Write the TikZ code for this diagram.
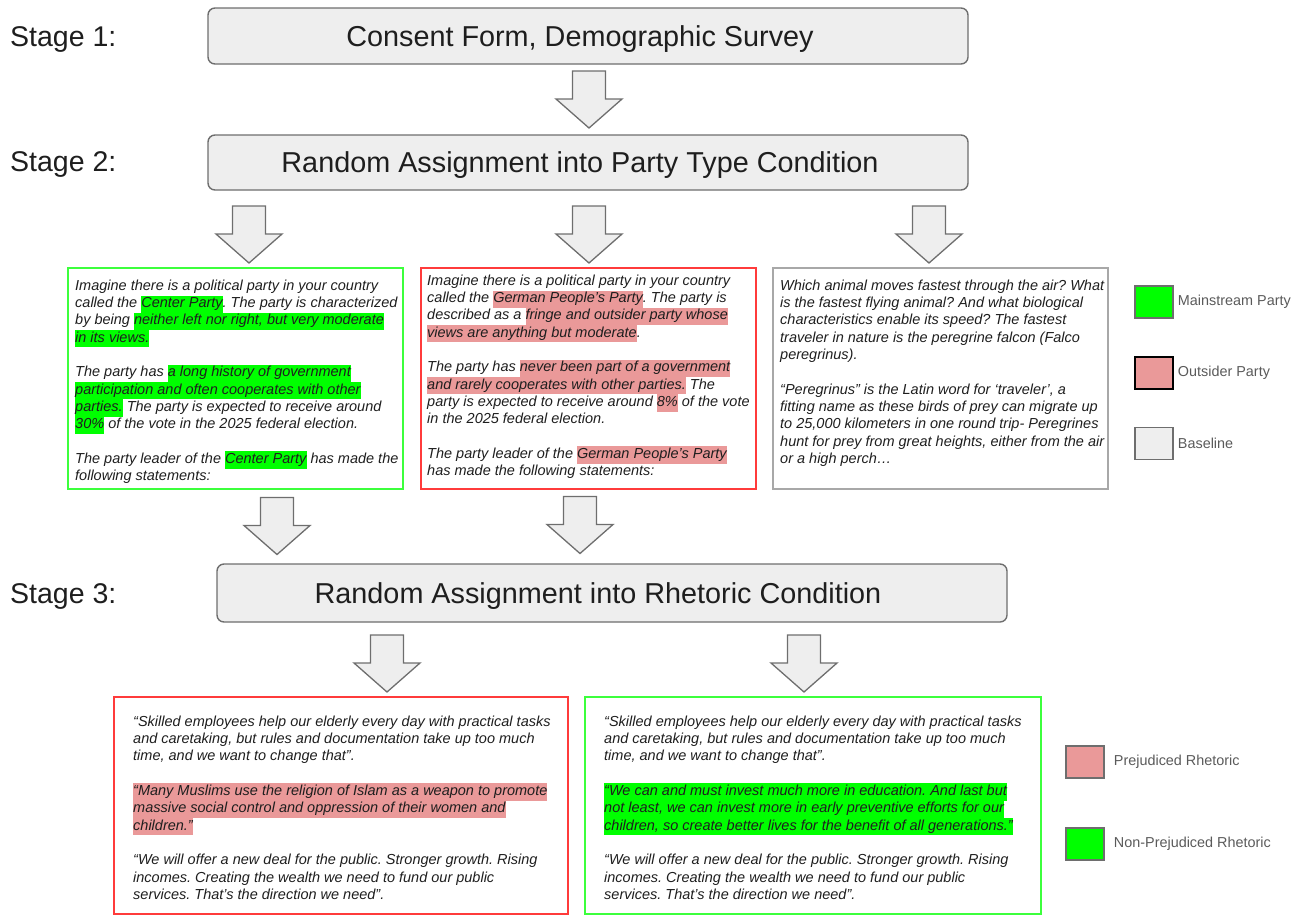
\documentclass[tikz,border=0pt]{standalone}
\usepackage{fontspec}
\setmainfont{Liberation Sans}
\usetikzlibrary{positioning}

\definecolor{mainhl}{HTML}{00FF00}
\definecolor{outhl}{HTML}{EA9999}
\definecolor{basefill}{HTML}{EEEEEE}
\definecolor{edgegray}{HTML}{6E6E6E}
\definecolor{boxred}{HTML}{FF3B3B}
\definecolor{boxgreen}{HTML}{3CFF3C}
\definecolor{boxgray}{HTML}{A8A8A8}
\definecolor{legtxt}{HTML}{5A5A5A}
\definecolor{bodytxt}{HTML}{1E1E1E}

\newcommand{\hlg}[1]{{\setlength{\fboxsep}{0pt}\colorbox{mainhl}{\strut #1}}}
\newcommand{\hlr}[1]{{\setlength{\fboxsep}{0pt}\colorbox{outhl}{\strut #1}}}

\tikzset{
	stagebox/.style={draw=edgegray, fill=basefill, line width=1.4pt, rounded corners=7pt,
		inner sep=0pt, text depth=0pt, text=bodytxt, font=\fontsize{28.8}{34}\selectfont},
	stagelbl/.style={anchor=west, inner sep=0pt, text=bodytxt, font=\fontsize{28.5}{34}\selectfont},
	condbox/.style={line width=1.5pt, inner sep=0pt},
	condtxt/.style={anchor=north west, align=left, inner sep=0pt, text=bodytxt,
		font=\fontsize{14.5}{17.3}\selectfont\itshape\frenchspacing},
	pics/bigarrow/.style={code={
		\draw[draw=edgegray, fill=basefill, line width=1.3pt]
			(-16.5,0) -- (16.5,0) -- (16.5,28) -- (33,28) -- (0,57) -- (-33,28) -- (-16.5,28) -- cycle;
	}},
	legbox/.style={draw=edgegray, line width=1.5pt, minimum width=38pt, minimum height=32pt, inner sep=0pt},
	legtext/.style={inner sep=0pt, text=legtxt, font=\fontsize{14.4}{17}\selectfont},
}

\begin{document}
\begin{tikzpicture}[x=1pt, y=-1pt]
	\useasboundingbox (0,0) rectangle (1308,916);

	% stages
	\node[stagelbl] (l1) at (10,40)  {Stage 1:};
	\node[stagelbl] (l2) at (10,165) {Stage 2:};
	\node[stagelbl] (l3) at (10,596) {Stage 3:};

	\node[stagebox, minimum width=760pt, minimum height=56pt] (s1) at (588,36)    {Consent Form, Demographic Survey\kern16pt};
	\node[stagebox, minimum width=760pt, minimum height=55pt] (s2) at (588,162.5) {Random Assignment into Party Type Condition\kern16pt};
	\node[stagebox, minimum width=790pt, minimum height=58pt] (s3) at (612,593)   {Random Assignment into Rhetoric Condition\kern28pt};

	% party type conditions
	\node[condbox, draw=boxgreen, minimum width=335pt, minimum height=221pt] (mainb) at (235.5,378.5) {};
	\node[condbox, draw=boxred,   minimum width=335pt, minimum height=221pt] (outb)  at (588.5,378.5) {};
	\node[condbox, draw=boxgray,  minimum width=335pt, minimum height=221pt] (baseb) at (940.5,378.5) {};

	\node[condtxt] (maint) at (75,278) {\strut Imagine there is a political party in your country\\
		called the \hlg{Center Party}. The party is characterized\\
		by being \hlg{neither left nor right, but very moderate}\\
		\hlg{in its views.}\\[17.3pt]
		The party has \hlg{a long history of government}\\
		\hlg{participation and often cooperates with other}\\
		\hlg{parties.} The party is expected to receive around\\
		\hlg{30\%} of the vote in the 2025 federal election.\\[17.3pt]
		The party leader of the \hlg{Center Party} has made the\\
		following statements:};

	\node[condtxt] (outt) at (427,273) {\strut Imagine there is a political party in your country\\
		called the \hlr{German People’s Party}. The party is\\
		described as a \hlr{fringe and outsider party whose}\\
		\hlr{views are anything but moderate}.\\[17.3pt]
		The party has \hlr{never been part of a government}\\
		\hlr{and rarely cooperates with other parties.} The\\
		party is expected to receive around \hlr{8\%} of the vote\\
		in the 2025 federal election.\\[17.3pt]
		The party leader of the \hlr{German People’s Party}\\
		has made the following statements:};

	\node[condtxt] (baset) at (780,278) {\strut Which animal moves fastest through the air? What\\
		is the fastest flying animal? And what biological\\
		characteristics enable its speed? The fastest\\
		traveler in nature is the peregrine falcon (Falco\\
		peregrinus).\\[17.3pt]
		“Peregrinus” is the Latin word for ‘traveler’, a\\
		fitting name as these birds of prey can migrate up\\
		to 25,000 kilometers in one round trip- Peregrines\\
		hunt for prey from great heights, either from the air\\
		or a high perch…};

	% rhetoric conditions
	\node[condbox, draw=boxred,   minimum width=454pt, minimum height=217pt] (prejb) at (341,805.5) {};
	\node[condbox, draw=boxgreen, minimum width=456pt, minimum height=217pt] (nprejb) at (813,805.5) {};

	\node[condtxt] (prejt) at (133,714) {\strut “Skilled employees help our elderly every day with practical tasks\\
		and caretaking, but rules and documentation take up too much\\
		time, and we want to change that”.\\[17.3pt]
		\hlr{“Many Muslims use the religion of Islam as a weapon to promote}\\
		\hlr{massive social control and oppression of their women and}\\
		\hlr{children.”}\\[17.3pt]
		“We will offer a new deal for the public. Stronger growth. Rising\\
		incomes. Creating the wealth we need to fund our public\\
		services. That’s the direction we need”.};

	\node[condtxt] (nprejt) at (604,714) {\strut “Skilled employees help our elderly every day with practical tasks\\
		and caretaking, but rules and documentation take up too much\\
		time, and we want to change that”.\\[17.3pt]
		\hlg{“We can and must invest much more in education. And last but}\\
		\hlg{not least, we can invest more in early preventive efforts for our}\\
		\hlg{children, so create better lives for the benefit of all generations.”}\\[17.3pt]
		“We will offer a new deal for the public. Stronger growth. Rising\\
		incomes. Creating the wealth we need to fund our public\\
		services. That’s the direction we need”.};

	% block arrows
	\pic (a12) at (589,71)    {bigarrow};
	\pic (a2m) at (249,206)   {bigarrow};
	\pic (a2o) at (589,206)   {bigarrow};
	\pic (a2b) at (929,206)   {bigarrow};
	\pic (am3) at (277,497.5) {bigarrow};
	\pic (ao3) at (580,496.5) {bigarrow};
	\pic (a3p) at (387,635)   {bigarrow};
	\pic (a3n) at (804,635)   {bigarrow};

	% legends
	\node[legbox, fill=mainhl] (kmain) at (1154,302) {};
	\node[legbox, fill=outhl, draw=black] (kout) at (1154,373) {};
	\node[legbox, fill=basefill] (kbase) at (1154,443.5) {};
	\node[legtext, right=4pt of kmain] (kmaint) {Mainstream Party};
	\node[legtext, right=4pt of kout]  (koutt)  {Outsider Party};
	\node[legtext, right=4pt of kbase] (kbaset) {Baseline};

	\node[legbox, fill=outhl]  (kprej)  at (1085,762) {};
	\node[legbox, fill=mainhl] (knprej) at (1085,844) {};
	\node[legtext, right=9pt of kprej]  (kprejt)  {Prejudiced Rhetoric};
	\node[legtext, right=9pt of knprej] (knprejt) {Non-Prejudiced Rhetoric};
\end{tikzpicture}
\end{document}
